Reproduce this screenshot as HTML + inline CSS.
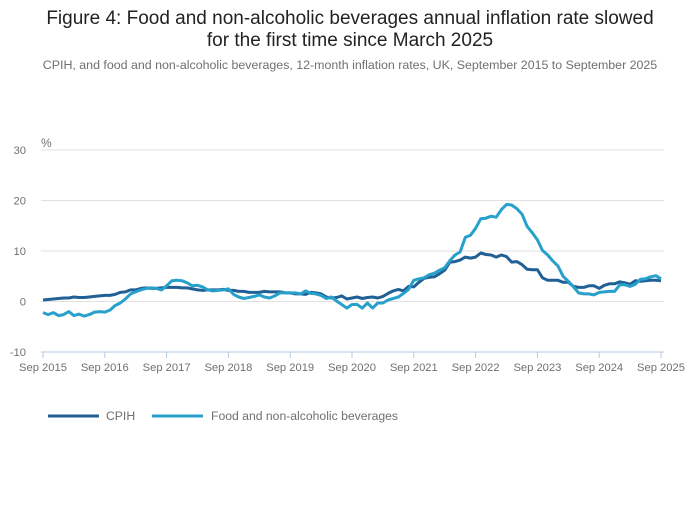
<!DOCTYPE html>
<html><head><meta charset="utf-8"><style>
body{margin:0;background:#fff;font-family:"Liberation Sans",sans-serif}
svg text{font-family:"Liberation Sans",sans-serif}
</style></head><body>
<svg width="700" height="502">
<text x="350" y="24" text-anchor="middle" font-size="19" fill="#222">Figure 4: Food and non-alcoholic beverages annual inflation rate slowed</text>
<text x="350" y="46" text-anchor="middle" font-size="19" fill="#222">for the first time since March 2025</text>
<text x="350" y="69" text-anchor="middle" font-size="12.4" fill="#707070">CPIH, and food and non-alcoholic beverages, 12-month inflation rates, UK, September 2015 to September 2025</text>
<text x="41" y="147" font-size="12" fill="#707070">%</text>
<g id="grid"></g><g id="xaxis"></g><g id="lines"></g>
<g>
<line x1="48" y1="416" x2="99" y2="416" stroke="#206095" stroke-width="3"/>
<text x="106" y="420" font-size="12.2" fill="#707070">CPIH</text>
<line x1="152" y1="416" x2="203" y2="416" stroke="#27a0cc" stroke-width="3"/>
<text x="211" y="420" font-size="12.2" fill="#707070">Food and non-alcoholic beverages</text>
</g>
</svg>
<script>
const yTicks=[30,20,10,0,-10];
const xTickLabels=["Sep 2015","Sep 2016","Sep 2017","Sep 2018","Sep 2019","Sep 2020","Sep 2021","Sep 2022","Sep 2023","Sep 2024","Sep 2025"];
const cpih=[0.3,0.4,0.5,0.6,
0.7,0.7,0.9,0.8,0.8,0.9,1.0,1.1,1.2,1.2,1.4,1.8,
1.9,2.3,2.3,2.6,2.7,2.6,2.6,2.7,2.8,2.8,2.8,2.7,
2.7,2.5,2.3,2.2,2.3,2.3,2.3,2.4,2.2,2.2,2.0,2.0,
1.8,1.8,1.8,2.0,1.9,1.9,1.9,1.7,1.7,1.5,1.5,1.4,
1.8,1.7,1.5,0.9,0.7,0.8,1.1,0.5,0.7,0.9,0.6,0.8,
0.9,0.7,1.0,1.6,2.1,2.4,2.1,3.0,2.9,3.8,4.6,4.8,
4.9,5.5,6.2,7.8,7.9,8.2,8.8,8.6,8.8,9.6,9.3,9.2,
8.8,9.2,8.9,7.8,7.9,7.3,6.4,6.3,6.3,4.7,4.2,4.2,
4.2,3.8,3.8,3.0,2.8,2.8,3.1,3.1,2.6,3.2,3.5,3.5,
3.9,3.7,3.4,4.1,4.0,4.1,4.2,4.2,4.1];
const food=[-2.2,-2.6,-2.2,-2.8,
-2.6,-2.0,-2.8,-2.5,-2.9,-2.6,-2.1,-2.0,-2.1,-1.7,-0.8,-0.3,
0.5,1.5,1.9,2.3,2.6,2.7,2.6,2.3,3.1,4.1,4.2,4.1,
3.7,3.1,3.2,2.9,2.3,2.1,2.2,2.3,2.5,1.4,0.9,0.6,
0.8,1.0,1.3,0.9,0.7,1.1,1.7,1.7,1.7,1.7,1.5,2.1,
1.6,1.5,1.2,0.6,0.9,0.1,-0.6,-1.3,-0.6,-0.6,-1.3,-0.3,
-1.3,-0.3,-0.3,0.3,0.6,0.9,1.6,2.4,4.2,4.5,4.7,5.3,
5.6,6.2,6.7,8.1,9.2,9.8,12.7,13.1,14.5,16.4,16.5,16.9,
16.7,18.2,19.2,19.1,18.4,17.3,14.9,13.6,12.2,10.1,9.2,8.0,
7.0,5.0,4.0,2.9,1.7,1.5,1.5,1.3,1.8,1.9,2.0,2.0,
3.3,3.3,3.0,3.4,4.4,4.5,4.9,5.1,4.5];
const NS="http://www.w3.org/2000/svg";
const x0=43,x1=661,yTop=150,yBot=352;
function xs(i){return x0+(x1-x0)*i/120;}
function ys(v){return yBot-(v+10)*(yBot-yTop)/40;}
function mk(t,a,p){const e=document.createElementNS(NS,t);for(const k in a)e.setAttribute(k,a[k]);p.appendChild(e);return e;}
const g=document.getElementById('grid');
yTicks.forEach(v=>{
  const l=mk('line',{x1:41,x2:664,y1:ys(v),y2:ys(v),stroke:v===-10?'#b6c9e0':'#e0e0e0','stroke-width':1},g);
  
  
  const t=mk('text',{x:26,y:ys(v)+4,'text-anchor':'end','font-size':11.2,fill:'#707070'},g);
  t.textContent=v;
  
  
});
const xa=document.getElementById('xaxis');
xTickLabels.forEach((s,k)=>{
  const x=xs(k*12);
  const l=mk('line',{x1:x,x2:x,y1:yBot,y2:yBot+6,stroke:'#b6c9e0'},xa);
  
  
  const t=mk('text',{x:x,y:371,'text-anchor':'middle','font-size':11.2,fill:'#707070'},xa);
  t.textContent=s;
  
  
});
const lg=document.getElementById('lines');
[[cpih,'#206095','cpih-line'],[food,'#27a0cc','food-line']].forEach(([d,c,n])=>{
  const p=mk('polyline',{points:d.map((v,i)=>xs(i).toFixed(1)+','+ys(v).toFixed(1)).join(' '),fill:'none',stroke:c,'stroke-width':3,'stroke-linejoin':'round'},lg);
  
  
});
</script>
</body></html>
